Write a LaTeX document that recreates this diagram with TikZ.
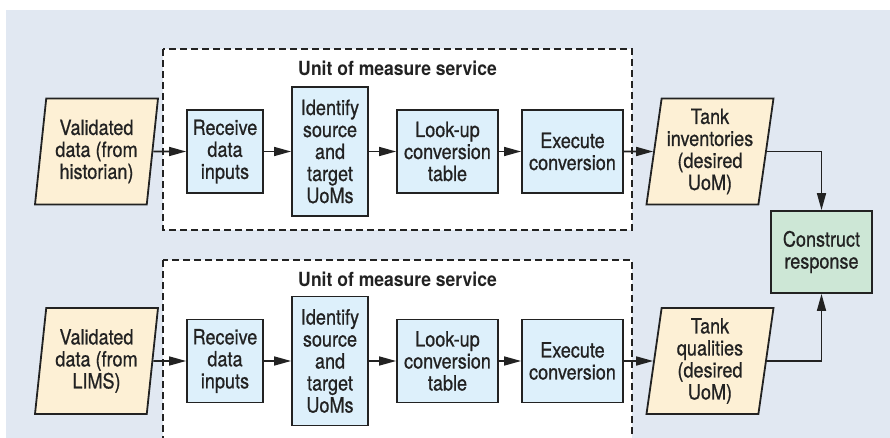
\documentclass[tikz,border=0pt]{standalone}
\usepackage{fontspec}
\setmainfont{TeX Gyre Heros}[FakeStretch=0.9]
\newfontfamily\labelfont{TeX Gyre Heros}[FakeStretch=0.86, FakeBold=0.7]
\usetikzlibrary{arrows.meta,shapes.geometric}

\definecolor{bgpanel}{HTML}{E1E8F2}
\definecolor{stepfill}{HTML}{DDF0FB}
\definecolor{datafill}{HTML}{FDF0D5}
\definecolor{resfill}{HTML}{CDE7D6}
\definecolor{ink}{HTML}{222222}

\tikzset{
  base/.style={draw=ink, line width=1.8pt, align=center, text=ink, inner sep=0pt,
    font=\labelfont\fontsize{21}{22}\selectfont},
  stepbox/.style={base, rectangle, fill=stepfill},
  narrowbox/.style={stepbox, minimum width=76pt, minimum height=83pt},
  widebox/.style={stepbox, minimum width=101pt, minimum height=83pt},
  tallbox/.style={stepbox, minimum width=76pt, minimum height=129pt},
  databox/.style={base, trapezium, trapezium left angle=80, trapezium right angle=100,
    trapezium stretches body, fill=datafill, minimum height=106pt, minimum width=123pt},
  resbox/.style={base, rectangle, fill=resfill, minimum width=101pt, minimum height=82pt},
  flow/.style={draw=ink, line width=1.6pt, -{Triangle[length=17pt,width=9pt]}},
  svcframe/.style={draw=ink, line width=1.5pt, dash pattern=on 7pt off 4pt, fill=white},
  svctitle/.style={font=\bfseries\fontsize{19.5}{22}\selectfont, text=ink, anchor=base},
}

\begin{document}
\begin{tikzpicture}[x=1pt,y=-1pt]
  \useasboundingbox (0,0) rectangle (890,438);
  % panel
  \fill[bgpanel] (6,10) rectangle (890,438);
  % service frames
  \begin{scope}
    \clip (6,10) rectangle (890,438);
    \draw[svcframe] (163,49) rectangle (632,230);
    \draw[svcframe] (163,260) rectangle (632,470);
  \end{scope}
  \node[svctitle] (title1) at (397.5,76) {Unit of measure service};
  \node[svctitle] (title2) at (397.5,286) {Unit of measure service};

  % upper chain
  \node[databox] (in1) at (96.5,151.5) {Validated\\data (from\\historian)};
  \node[narrowbox] (rcv1) at (225,151.5) {Receive\\data\\inputs};
  \node[tallbox] (idf1) at (330,151.5) {Identify\\source\\and\\target\\UoMs};
  \node[widebox] (lku1) at (447.5,151.5) {Look-up\\conversion\\table};
  \node[widebox] (exe1) at (572.5,151.5) {Execute\\conversion};
  \node[databox, minimum width=127pt] (out1) at (710,151.5) {Tank\\inventories\\(desired\\UoM)};

  % lower chain
  \node[databox] (in2) at (96.5,361) {Validated\\data (from\\LIMS)};
  \node[narrowbox] (rcv2) at (225,361) {Receive\\data\\inputs};
  \node[tallbox] (idf2) at (330,361) {Identify\\source\\and\\target\\UoMs};
  \node[widebox] (lku2) at (447.5,361) {Look-up\\conversion\\table};
  \node[widebox] (exe2) at (572.5,361) {Execute\\conversion};
  \node[databox, minimum width=127pt] (out2) at (710,361) {Tank\\qualities\\(desired\\UoM)};

  % merge
  \node[resbox] (resp) at (821.5,252) {Construct\\response};

  \foreach \r in {1,2} {
    \draw[flow] (in\r) -- (rcv\r);
    \draw[flow] (rcv\r) -- (idf\r);
    \draw[flow] (idf\r) -- (lku\r);
    \draw[flow] (lku\r) -- (exe\r);
    \draw[flow] (exe\r) -- (out\r);
    \draw[flow] (out\r) -| (resp);
  }
\end{tikzpicture}
\end{document}
